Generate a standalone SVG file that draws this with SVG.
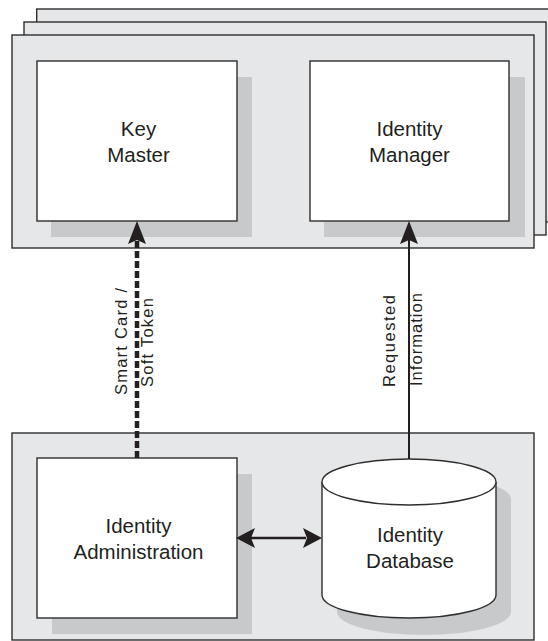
<svg xmlns="http://www.w3.org/2000/svg" width="548" height="641" viewBox="0 0 548 641">
<style>
.panel{fill:#e6e7e8;stroke:#2e2e2e;stroke-width:1.4}
.shadow{fill:#c8c9cb;stroke:none}
.box{fill:#ffffff;stroke:#2e2e2e;stroke-width:1.4}
.lbl{font-family:"Liberation Sans",Arial,sans-serif;font-size:20.5px;fill:#231f20;text-anchor:middle}
.elbl{font-family:"Liberation Sans",Arial,sans-serif;font-size:16.5px;fill:#231f20}
.head{fill:#231f20;stroke:none}
</style>
<rect width="548" height="641" fill="#ffffff"/>
<g id="server-stack">
<rect class="panel" x="36.7" y="9" width="522" height="213"/>
<rect class="panel" x="24" y="22" width="522" height="213"/>
<rect class="panel" x="12" y="35" width="522" height="213"/>
</g>
<g id="admin-panel">
<rect class="panel" x="12" y="433" width="522" height="207"/>
</g>
<g id="key-master">
<rect class="shadow" x="51" y="77" width="201" height="160"/>
<rect class="box" x="37" y="61" width="200" height="160"/>
<text class="lbl" x="138.5" y="136">Key</text>
<text class="lbl" x="138.5" y="162">Master</text>
</g>
<g id="identity-manager">
<rect class="shadow" x="324" y="77" width="201" height="160"/>
<rect class="box" x="310" y="61" width="199" height="160"/>
<text class="lbl" x="409.5" y="136">Identity</text>
<text class="lbl" x="409.5" y="162">Manager</text>
</g>
<g id="identity-administration">
<rect class="shadow" x="52" y="474" width="200" height="160"/>
<rect class="box" x="37" y="458" width="200" height="160"/>
<text class="lbl" x="138.5" y="533">Identity</text>
<text class="lbl" x="138.5" y="559">Administration</text>
</g>
<g id="identity-database">
<path class="shadow" d="M337,499 A87,23 0 0 1 511,499 L511,612 A87,23 0 0 1 337,612 Z"/>
<path class="box" d="M322,482 L322,595 A87,23 0 0 0 496,595 L496,482"/>
<ellipse class="box" cx="409" cy="482" rx="87" ry="23"/>
<text class="lbl" x="410" y="542">Identity</text>
<text class="lbl" x="410" y="568">Database</text>
</g>
<g id="connectors">
<line x1="137" y1="458" x2="137" y2="240" stroke="#231f20" stroke-width="4.5" stroke-dasharray="7 3"/>
<path class="head" d="M137,221 L146,244 L137,240 L128,244 Z"/>
<line x1="409" y1="459" x2="409" y2="240" stroke="#231f20" stroke-width="2"/>
<path class="head" d="M409,221 L418,244 L409,240 L400,244 Z"/>
<line x1="250" y1="538" x2="306" y2="538" stroke="#231f20" stroke-width="2.4"/>
<path class="head" d="M236,538 L255,528 L251,538 L255,548 Z"/>
<path class="head" d="M322,538 L303,528 L307,538 L303,548 Z"/>
<text class="elbl" transform="translate(127,395) rotate(-90)" textLength="107" lengthAdjust="spacing">Smart Card /</text>
<text class="elbl" transform="translate(153,387) rotate(-90)" textLength="89" lengthAdjust="spacing">Soft Token</text>
<text class="elbl" transform="translate(395,387) rotate(-90)" textLength="92" lengthAdjust="spacing">Requested</text>
<text class="elbl" transform="translate(422,386) rotate(-90)" textLength="93" lengthAdjust="spacing">Information</text>
</g>
</svg>
